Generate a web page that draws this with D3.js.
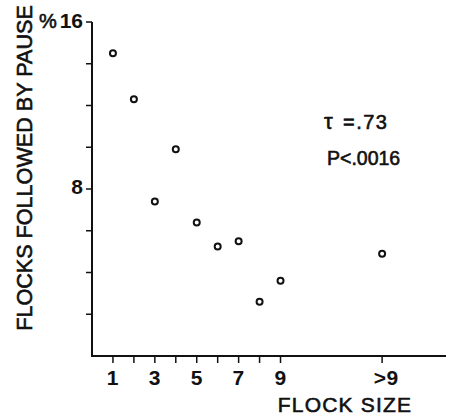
<!DOCTYPE html>
<html>
<head>
<meta charset="utf-8">
<script src="https://cdn.jsdelivr.net/npm/d3@7"></script>
<style>
  body { margin: 0; background: #fff; }
  text { font-family: "Liberation Sans", Arial, sans-serif; fill: #111; }
  .heavy { stroke: #111; stroke-width: 0.6px; }
</style>
</head>
<body>
<div id="chart"></div>
<script>
// flock size categories and % of flocks followed by a pause
var sizes   = ["1", "2", "3", "4", "5", "6", "7", "8", "9", ">9"];
var percent = [14.5, 12.3, 7.4, 9.9, 6.4, 5.25, 5.5, 2.6, 3.6, 4.9];
var xLabels = ["1", "3", "5", "7", "9", ">9"];
var yTicks  = [2, 4, 6, 8, 10, 12, 14, 16];
var yLabels = [8, 16];

var w = 451, h = 415;
var overPos = 13.85;                            // where ">9" sits on the size axis

function sizePos(s) {                           // category -> axis position
    return s === ">9" ? overPos : +s;
}

var svg = d3.select("#chart").append("svg")
    .attr("width", w)
    .attr("height", h);

var x = d3.scaleLinear().domain([0, 16.9]).range([92, 446]);
var y = d3.scaleLinear().domain([0, 16]).range([356, 22]);

// y axis line + ticks (hook at the top)
svg.append("line")
    .attr("x1", x(0)).attr("x2", x(0))
    .attr("y1", y(16)).attr("y2", y(0) + 1)
    .attr("stroke", "#111").attr("stroke-width", 2);
svg.selectAll(".ytick")
    .data(yTicks)
    .enter().append("line")
    .attr("x1", x(0) - 6).attr("x2", x(0))
    .attr("y1", d => y(d)).attr("y2", d => y(d))
    .attr("stroke", "#111").attr("stroke-width", 1.5);

// x axis line + ticks
svg.append("line")
    .attr("x1", x(0) - 1).attr("x2", x(16.9))
    .attr("y1", y(0)).attr("y2", y(0))
    .attr("stroke", "#111").attr("stroke-width", 2);
svg.selectAll(".xtick")
    .data(sizes)
    .enter().append("line")
    .attr("x1", d => x(sizePos(d))).attr("x2", d => x(sizePos(d)))
    .attr("y1", y(0)).attr("y2", y(0) + 7)
    .attr("stroke", "#111").attr("stroke-width", 1.5);

// tick labels
svg.selectAll(".xlab")
    .data(xLabels)
    .enter().append("text")
    .attr("x", d => x(sizePos(d)) + (d === ">9" ? 4 : 0))
    .attr("y", 385)
    .attr("text-anchor", "middle")
    .attr("font-size", 21)
    .attr("font-weight", "bold")
    .attr("letter-spacing", 0.5)
    .text(d => d);

svg.selectAll(".ylab")
    .data(yLabels)
    .enter().append("text")
    .attr("x", x(0) - 9)
    .attr("y", d => y(d) + (d === 16 ? 6 : 5))
    .attr("text-anchor", "end")
    .attr("font-size", 21)
    .attr("font-weight", "bold")
    .text(d => d);

svg.append("text")
    .attr("class", "heavy")
    .attr("x", 39).attr("y", 28)
    .attr("font-size", 20)
    .text("%");

// axis titles
svg.append("text")
    .attr("class", "heavy")
    .attr("x", 345).attr("y", 412)
    .attr("text-anchor", "middle")
    .attr("font-size", 21)
    .attr("letter-spacing", 1.2)
    .text("FLOCK SIZE");

svg.append("text")
    .attr("class", "heavy")
    .attr("transform", "translate(32,168) rotate(-90)")
    .attr("text-anchor", "middle")
    .attr("font-size", 21.6)
    .text("FLOCKS FOLLOWED BY PAUSE");

// statistics
svg.append("text")
    .attr("class", "heavy")
    .attr("x", 324).attr("y", 129)
    .attr("font-size", 22)
    .text("τ");
svg.append("text")
    .attr("class", "heavy")
    .attr("x", 343).attr("y", 129)
    .attr("font-size", 20)
    .attr("letter-spacing", 1.5)
    .text("=.73");
svg.append("text")
    .attr("class", "heavy")
    .attr("x", 327).attr("y", 165)
    .attr("font-size", 19.5)
    .text("P<.0016");

// open circle points
svg.selectAll(".dot")
    .data(sizes)
    .enter().append("circle")
    .attr("cx", d => x(sizePos(d)))
    .attr("cy", (d, i) => y(percent[i]))
    .attr("r", 3)
    .attr("fill", "none")
    .attr("stroke", "#111")
    .attr("stroke-width", 2);
</script>
</body>
</html>
